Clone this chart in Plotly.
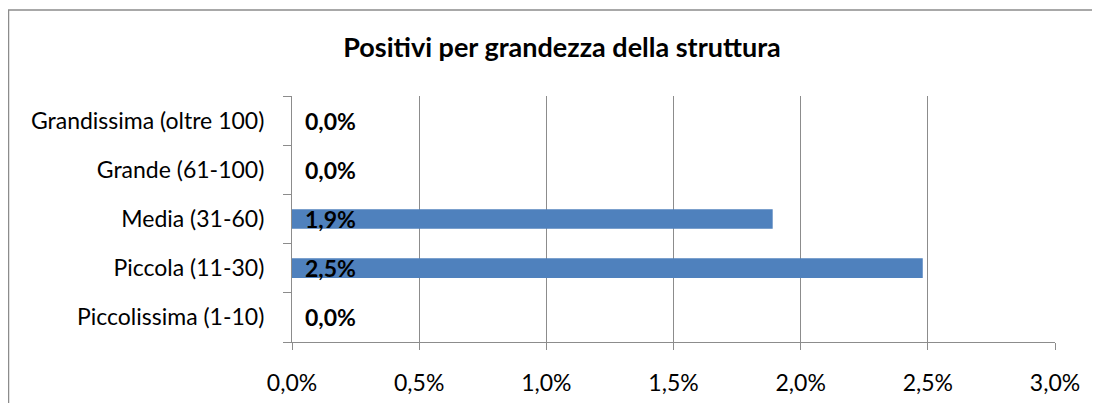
import plotly.graph_objects as go

categories = ["Piccolissima (1-10)", "Piccola (11-30)", "Media (31-60)",
              "Grande (61-100)", "Grandissima (oltre 100)"]
values = [0.0, 0.0248, 0.0189, 0.0, 0.0]
title = "Positivi per grandezza della struttura"
x_ticks = [0, 0.005, 0.01, 0.015, 0.02, 0.025, 0.03]

FONT = "Lato, Calibri, Carlito, sans-serif"
W, H = 1100, 403
L, R, T, B = 284, 53, 88, 69
pw, ph = W - L - R, H - T - B

fig = go.Figure()
fig.add_trace(go.Bar(
    y=categories, x=values, orientation="h",
    marker=dict(color="#4F81BD", line=dict(width=0)),
    width=0.4, hoverinfo="x+y",
))

for c, v in zip(categories, values):
    fig.add_annotation(
        x=0, y=c, xref="x", yref="y",
        text="<b>" + f"{v*100:.1f}".replace(".", ",") + "%</b>",
        showarrow=False, xanchor="left", xshift=11,
        font=dict(family=FONT, size=23, color="black"),
    )

# outer chart-area border
fig.add_shape(
    type="rect", xref="paper", yref="paper",
    x0=(0.5 - L) / pw, x1=(W + 10 - L) / pw,
    y0=-(H + 10 - (T + ph)) / ph, y1=(T + ph - 2) / ph,
    line=dict(color="#8C8C8C", width=1.5), fillcolor="rgba(0,0,0,0)", layer="below",
)

fig.update_layout(
    width=W, height=H,
    margin=dict(l=L, r=R, t=T, b=B, pad=0),
    paper_bgcolor="white", plot_bgcolor="white",
    separators=",.",
    showlegend=False,
    title=dict(text="<b>" + title + "</b>", x=554 / W, xanchor="center",
               y=1 - 40 / H, yanchor="middle",
               font=dict(family=FONT, size=27, color="black")),
    font=dict(family=FONT, size=23, color="black"),
    bargap=0.6,
)
fig.update_xaxes(
    range=[0, 0.03], tickvals=x_ticks, tickformat=".1%",
    showgrid=True, gridcolor="#8C8C8C", gridwidth=1.2,
    showline=True, linecolor="#8C8C8C", linewidth=1.2,
    ticks="outside", ticklen=7, tickcolor="#8C8C8C", tickwidth=1.2,
    zeroline=False, ticklabelstandoff=13, fixedrange=True,
)
fig.update_yaxes(
    categoryorder="array", categoryarray=categories,
    showgrid=False, showline=True, linecolor="#8C8C8C", linewidth=1.2,
    ticks="outside", ticklen=8, tickcolor="#8C8C8C", tickwidth=1.2,
    tickson="boundaries", ticklabelstandoff=22, fixedrange=True,
)

fig.write_html("out.html")
